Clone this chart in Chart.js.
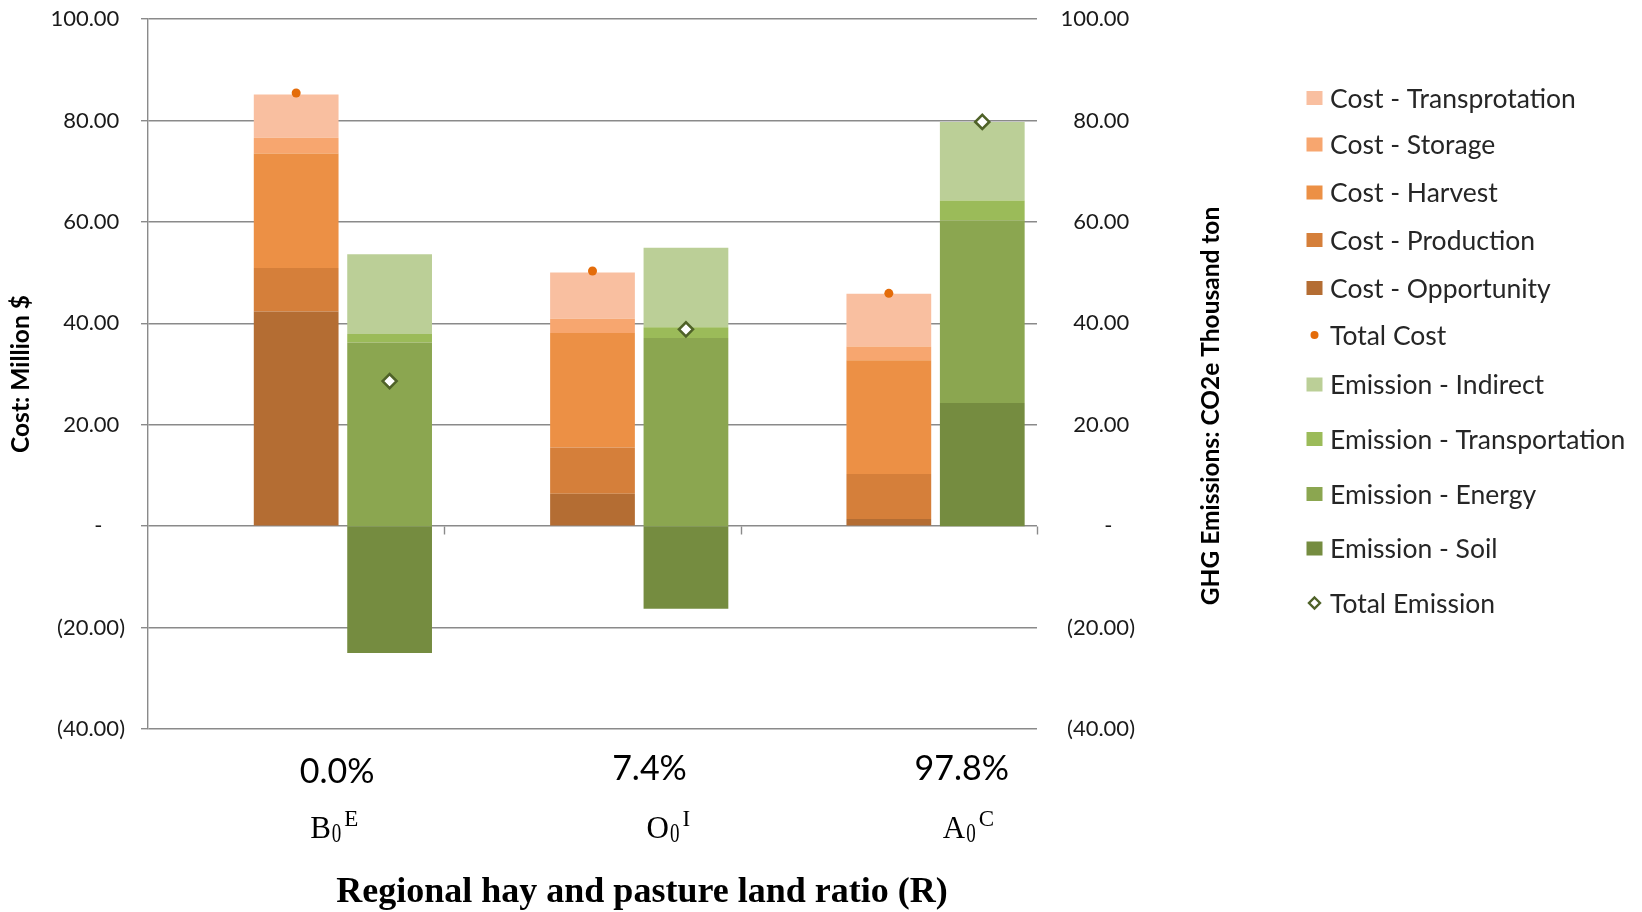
<!DOCTYPE html>
<html>
<head>
<meta charset="utf-8">
<title>Cost and GHG emissions by regional hay and pasture land ratio</title>
<script src="https://cdn.jsdelivr.net/npm/chart.js@4.4.1/dist/chart.umd.min.js"></script>
<style>
  html, body { margin: 0; padding: 0; background: #ffffff; }
  #wrap { width: 1642px; height: 912px; }
</style>
</head>
<body>
<div id="wrap"><canvas id="chart" width="1642" height="912"></canvas></div>
<script>
// ---- data -------------------------------------------------------------
const categories   = ['0.0%', '7.4%', '97.8%'];
const scenarioBase = ['B', 'O', 'A'];
const scenarioSub  = ['0', '0', '0'];
const scenarioSup  = ['E', 'I', 'C'];

// Cost components, million $ (stacked bottom to top)
const costOpportunity    = [42.3, 6.4, 1.4];
const costProduction     = [8.6, 9.1, 8.9];
const costHarvest        = [22.6, 22.6, 22.4];
const costStorage        = [3.1, 2.8, 2.7];
const costTransportation = [8.5, 9.1, 10.4];
const totalCost          = [85.4, 50.3, 45.9];

// GHG emission components, thousand ton CO2e (stacked bottom to top)
const emissionSoil           = [-25.0, -16.3, 24.3];
const emissionEnergy         = [36.2, 37.1, 36.0];
const emissionTransportation = [1.7, 2.1, 3.9];
const emissionIndirect       = [15.7, 15.7, 15.5];
const totalEmission          = [28.6, 38.8, 79.7];

// shared value axis range
const axisMin = -40;
const axisMax = 100;
const axisStep = 20;

// ---- styling ----------------------------------------------------------
const SANS  = 'Lato, "Open Sans", "DejaVu Sans", sans-serif';
const SERIF = '"Liberation Serif", "DejaVu Serif", serif';
const GRID  = '#8a8a8a';

// accounting-style number format used on both value axes
function accounting(v) {
  if (v === 0) return '-    ';
  if (v < 0) return '(' + Math.abs(v).toFixed(2) + ')';
  return v.toFixed(2) + ' ';
}

// keep only half a label of overhang above and below the plot
function tightPadding(s) {
  s.paddingTop = 13;
  s.paddingBottom = 13;
}

function bar(label, data, color, stack, axis) {
  return { type: 'bar', label, data, backgroundColor: color, borderWidth: 0, stack, yAxisID: axis };
}

const datasets = [
  // empty leading stack so the cost column sits on the category centre
  { type: 'bar', label: '', data: [null, null, null], stack: 'lead', yAxisID: 'y' },
  bar('Cost - Opportunity',       costOpportunity,        '#B46D33', 'cost', 'y'),
  bar('Cost - Production',        costProduction,         '#D57F3A', 'cost', 'y'),
  bar('Cost - Harvest',           costHarvest,            '#EC9045', 'cost', 'y'),
  bar('Cost - Storage',           costStorage,            '#F7A66F', 'cost', 'y'),
  bar('Cost - Transprotation',    costTransportation,     '#F9BFA0', 'cost', 'y'),
  bar('Emission - Soil',          emissionSoil,           '#758C40', 'emission', 'y2'),
  bar('Emission - Energy',        emissionEnergy,         '#8BA650', 'emission', 'y2'),
  bar('Emission - Transportation',emissionTransportation, '#9BBB59', 'emission', 'y2'),
  bar('Emission - Indirect',      emissionIndirect,       '#BBCF97', 'emission', 'y2'),
  {
    type: 'line', label: 'Total Cost', data: totalCost, showLine: false, order: -1,
    pointStyle: 'circle', pointRadius: 4.5, pointBackgroundColor: '#E46C0A',
    pointBorderColor: '#E46C0A', pointBorderWidth: 0, backgroundColor: '#E46C0A', yAxisID: 'y'
  },
  {
    type: 'line', label: 'Total Emission', data: totalEmission, showLine: false, order: -1,
    pointStyle: 'rectRot', pointRadius: 7, pointBackgroundColor: '#ffffff',
    pointBorderColor: '#4F6228', pointBorderWidth: 2.6, backgroundColor: '#ffffff',
    borderColor: '#4F6228', yAxisID: 'y2'
  }
];

// ---- plugins ----------------------------------------------------------
// put each total marker over the middle of its own column
const markerAlign = {
  id: 'markerAlign',
  afterDatasetsUpdate(chart) {
    const pairs = [['Total Cost', 'Cost - Harvest'], ['Total Emission', 'Emission - Energy']];
    pairs.forEach(([pointLabel, barLabel]) => {
      const pi = chart.data.datasets.findIndex(d => d.label === pointLabel);
      const bi = chart.data.datasets.findIndex(d => d.label === barLabel);
      const pm = chart.getDatasetMeta(pi), bm = chart.getDatasetMeta(bi);
      pm.data.forEach((pt, i) => { if (bm.data[i]) pt.x = bm.data[i].x; });
    });
  }
};

// category separators hanging below the zero line
const zeroTicks = {
  id: 'zeroTicks',
  afterDraw(chart) {
    const ctx = chart.ctx, xs = chart.scales.x, ys = chart.scales.y;
    const y0 = Math.round(ys.getPixelForValue(0)) + 0.5;
    ctx.save();
    ctx.strokeStyle = GRID;
    ctx.lineWidth = 1.4;
    categories.forEach((c, i) => {
      const bx = i < categories.length - 1
        ? (xs.getPixelForValue(i) + xs.getPixelForValue(i + 1)) / 2
        : chart.chartArea.right;
      ctx.beginPath();
      ctx.moveTo(Math.round(bx) + 0.5, y0);
      ctx.lineTo(Math.round(bx) + 0.5, y0 + 8);
      ctx.stroke();
    });
    ctx.restore();
  }
};

// category captions, right axis title, x title and legend
const captions = {
  id: 'captions',
  afterDraw(chart) {
    const ctx = chart.ctx;
    const xs = chart.scales.x;
    const pctShift = [41, 57, 73];
    const pctBase  = [783, 780, 780];
    const symLeft  = [14, 54, 54];
    ctx.save();
    ctx.fillStyle = '#000';

    categories.forEach((txt, i) => {
      const c = xs.getPixelForValue(i);
      ctx.font = '34px ' + SANS;
      ctx.textAlign = 'center';
      ctx.textBaseline = 'alphabetic';
      ctx.fillText(txt, c + pctShift[i], pctBase[i]);

      // scenario code: base letter, narrow subscript digit, then superscript letter
      ctx.textAlign = 'left';
      let x = c + symLeft[i];
      ctx.font = '31px ' + SERIF;
      ctx.fillText(scenarioBase[i], x, 838);
      x += ctx.measureText(scenarioBase[i]).width + 1;
      ctx.font = '28px ' + SERIF;
      const wSub = ctx.measureText(scenarioSub[i]).width * 0.68;
      ctx.save();
      ctx.translate(x, 842);
      ctx.scale(0.68, 1);
      ctx.fillText(scenarioSub[i], 0, 0);
      ctx.restore();
      x += wSub + 3;
      ctx.font = '23px ' + SERIF;
      ctx.fillText(scenarioSup[i], x, 826);
    });

    // x axis title
    ctx.font = 'bold 36px ' + SERIF;
    ctx.textAlign = 'center';
    ctx.fillText('Regional hay and pasture land ratio (R)', 642, 902);

    // right axis title (reads bottom to top)
    ctx.save();
    ctx.translate(1211, 406);
    ctx.rotate(-Math.PI / 2);
    ctx.font = 'bold 24.5px ' + SANS;
    ctx.textAlign = 'center';
    ctx.textBaseline = 'middle';
    ctx.fillText('GHG Emissions: CO2e Thousand ton', 0, 0);
    ctx.restore();

    // legend
    const order = ['Cost - Transprotation', 'Cost - Storage', 'Cost - Harvest', 'Cost - Production',
      'Cost - Opportunity', 'Total Cost', 'Emission - Indirect', 'Emission - Transportation',
      'Emission - Energy', 'Emission - Soil', 'Total Emission'];
    const rows = [98, 144.5, 192.5, 240, 288, 335, 384.5, 439, 494, 548.5, 603];
    const mx = 1314.5;
    order.forEach((label, k) => {
      const ds = chart.data.datasets.find(d => d.label === label);
      const y = rows[k];
      if (label === 'Total Cost') {
        ctx.fillStyle = ds.pointBackgroundColor;
        ctx.beginPath(); ctx.arc(mx, y, 4, 0, Math.PI * 2); ctx.fill();
      } else if (label === 'Total Emission') {
        const r = 5.5;
        ctx.beginPath();
        ctx.moveTo(mx, y - r); ctx.lineTo(mx + r, y); ctx.lineTo(mx, y + r); ctx.lineTo(mx - r, y);
        ctx.closePath();
        ctx.fillStyle = '#fff'; ctx.fill();
        ctx.lineWidth = 2.4; ctx.strokeStyle = ds.pointBorderColor; ctx.stroke();
      } else {
        ctx.fillStyle = ds.backgroundColor;
        ctx.fillRect(mx - 8, y - 7, 16, 14);
      }
      ctx.fillStyle = '#262626';
      ctx.font = '26.5px ' + SANS;
      ctx.textAlign = 'left';
      ctx.textBaseline = 'middle';
      ctx.fillText(label, 1330, y + 1);
    });
    ctx.restore();
  }
};

// ---- chart ------------------------------------------------------------
new Chart(document.getElementById('chart'), {
  type: 'bar',
  data: { labels: categories, datasets },
  options: {
    responsive: false,
    animation: false,
    events: [],
    layout: { padding: { top: 19, bottom: 183, left: 0, right: 507 } },
    datasets: { bar: { categoryPercentage: 0.946, barPercentage: 0.907 } },
    plugins: { legend: { display: false }, tooltip: { enabled: false } },
    scales: {
      x: {
        type: 'category',
        display: false,
        stacked: true,
        offset: true
      },
      y: {
        position: 'left',
        stacked: true,
        min: axisMin, max: axisMax,
        ticks: { stepSize: axisStep, callback: accounting, color: '#1a1a1a', font: { family: SANS, size: 22 }, padding: 16 },
        grid: { color: GRID, lineWidth: 1.4, drawTicks: true, tickLength: 7 },
        border: { display: true, color: GRID, width: 1.4 },
        title: { display: true, text: 'Cost: Million $', color: '#000', font: { family: SANS, size: 24.5, weight: 'bold' }, padding: { top: 6, bottom: 0 } },
        afterFit(s) { s.width = 148; tightPadding(s); }
      },
      y2: {
        position: 'right',
        stacked: true,
        min: axisMin, max: axisMax,
        ticks: { stepSize: axisStep, callback: accounting, color: '#1a1a1a', font: { family: SANS, size: 22 }, padding: 10, crossAlign: 'far' },
        grid: { display: false, drawTicks: false },
        border: { display: false },
        afterFit(s) { s.width = 98; tightPadding(s); }
      }
    }
  },
  plugins: [markerAlign, zeroTicks, captions]
});
</script>
</body>
</html>
